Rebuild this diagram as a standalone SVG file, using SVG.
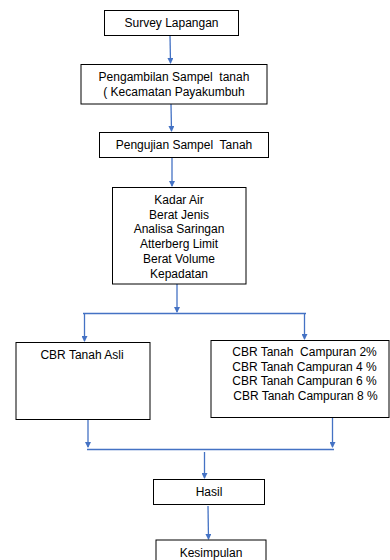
<svg xmlns="http://www.w3.org/2000/svg" width="390" height="560" viewBox="0 0 390 560">
<defs>
<marker id="ah" markerWidth="6" markerHeight="6" refX="5" refY="3" orient="auto" markerUnits="userSpaceOnUse">
<path d="M0,0 L6,3 L0,6 Z" fill="#4472C4"/>
</marker>
<style>
.box{fill:#fff;stroke:#000;stroke-width:1}
.t{font-family:"Liberation Sans",Arial,sans-serif;font-size:12px;fill:#000;text-anchor:middle}
.c{stroke:#4472C4;stroke-width:1.3;fill:none}
.a{stroke:#4472C4;stroke-width:1.3;fill:none;marker-end:url(#ah)}
</style>
</defs>
<rect width="390" height="560" fill="#fff"/>
<g id="connectors">
<line class="a" x1="170" y1="35" x2="170.5" y2="63"/>
<line class="a" x1="171" y1="104" x2="171.5" y2="131"/>
<line class="a" x1="172" y1="157" x2="172" y2="186"/>
<line class="a" x1="177" y1="284" x2="177" y2="312"/>
<line class="c" x1="83" y1="313.5" x2="306" y2="313.5"/>
<line class="a" x1="84.5" y1="313.5" x2="84.5" y2="341"/>
<line class="a" x1="304.5" y1="313.5" x2="304.5" y2="339"/>
<line class="a" x1="88" y1="419" x2="88" y2="447"/>
<line class="a" x1="332.5" y1="417" x2="332.5" y2="447"/>
<line class="c" x1="87" y1="449.5" x2="334" y2="449.5"/>
<line class="a" x1="204.5" y1="452" x2="204.5" y2="478"/>
<line class="a" x1="208" y1="506" x2="208.5" y2="539"/>
</g>
<g id="survey">
<rect class="box" x="104.5" y="10.5" width="134" height="25"/>
<text class="t" x="171.5" y="27">Survey Lapangan</text>
</g>
<g id="pengambilan">
<rect class="box" x="81" y="64.5" width="186" height="39.5"/>
<text class="t" x="174" y="81" xml:space="preserve">Pengambilan Sampel  tanah</text>
<text class="t" x="174" y="96">( Kecamatan Payakumbuh</text>
</g>
<g id="pengujian">
<rect class="box" x="99.5" y="132.5" width="169" height="25"/>
<text class="t" x="184" y="149" xml:space="preserve">Pengujian Sampel  Tanah</text>
</g>
<g id="pengujian-list">
<rect class="box" x="112.5" y="187.5" width="133.5" height="96.5"/>
<text class="t" x="179" y="204">Kadar Air</text>
<text class="t" x="179" y="218.7">Berat Jenis</text>
<text class="t" x="179" y="233.4">Analisa Saringan</text>
<text class="t" x="179" y="248.1">Atterberg Limit</text>
<text class="t" x="179" y="262.8">Berat Volume</text>
<text class="t" x="179" y="277.5">Kepadatan</text>
</g>
<g id="cbr-asli">
<rect class="box" x="16" y="342.5" width="134" height="77"/>
<text class="t" x="82" y="359">CBR Tanah Asli</text>
</g>
<g id="cbr-campuran">
<rect class="box" x="211" y="340.5" width="178" height="77"/>
<text class="t" x="304.5" y="356" xml:space="preserve">CBR Tanah  Campuran 2%</text>
<text class="t" x="304.5" y="370.7">CBR Tanah Campuran 4 %</text>
<text class="t" x="304.5" y="385.4">CBR Tanah Campuran 6 %</text>
<text class="t" x="305.5" y="400.1">CBR Tanah Campuran 8 %</text>
</g>
<g id="hasil">
<rect class="box" x="153.5" y="479.5" width="111" height="25"/>
<text class="t" x="209" y="496">Hasil</text>
</g>
<g id="kesimpulan">
<rect class="box" x="156" y="540" width="110" height="30"/>
<text class="t" x="211" y="557">Kesimpulan</text>
</g>
</svg>
